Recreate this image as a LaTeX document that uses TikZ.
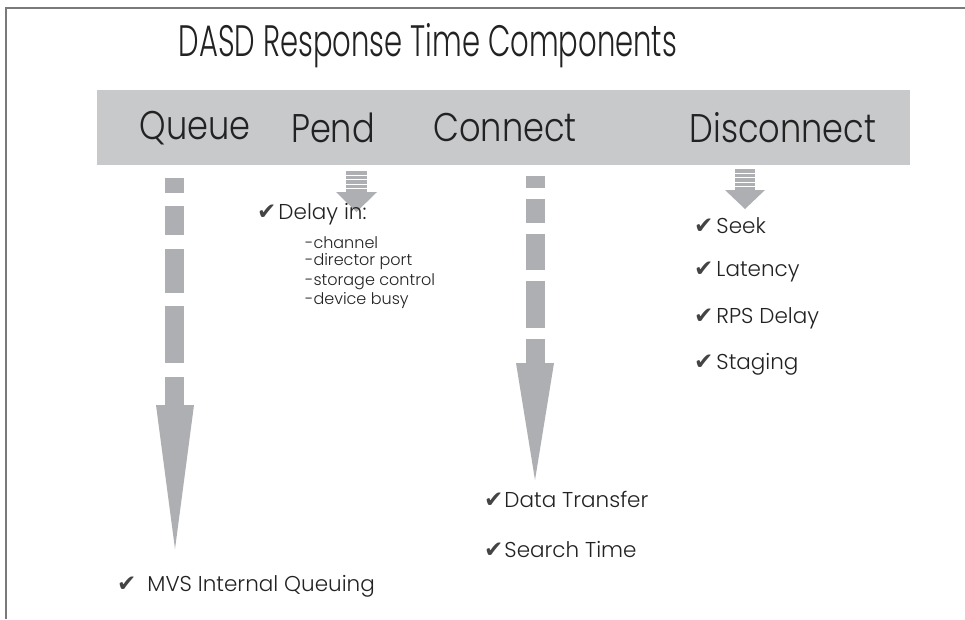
\documentclass[tikz,border=0pt]{standalone}
\usepackage{fontspec}
\setmainfont{Poppins}[UprightFont=* Light]
\newfontfamily\titlefont{Poppins}[UprightFont=* Light, FakeStretch=0.66]
\newfontfamily\headfont{Poppins}[UprightFont=* Light, FakeStretch=0.84]
\newfontfamily\symfont{DejaVu Sans}
\definecolor{bandgray}{HTML}{C8C9CB}
\definecolor{arrowgray}{HTML}{AEAFB2}
\definecolor{framegray}{HTML}{7A7A7A}
\definecolor{txt}{HTML}{222222}
\definecolor{chk}{HTML}{444444}
\tikzset{
  head/.style={font=\headfont\fontsize{40}{44}\selectfont, text=txt, inner sep=0pt},
  item/.style={font=\fontsize{21.5}{24}\selectfont, text=txt, inner sep=0pt, anchor=west},
  sub/.style={font=\fontsize{16}{18}\selectfont, text=txt, inner sep=0pt, anchor=west},
  seg/.style={fill=arrowgray, draw=none},
}
\newcommand{\ck}{{\symfont\color{chk}\fontsize{23}{24}\selectfont ✔}}
\begin{document}
\begin{tikzpicture}[x=1pt,y=-1pt]
\useasboundingbox (0,0) rectangle (965,619);
\fill[white] (0,0) rectangle (965,619);
% frame
\draw[framegray, line width=1.6pt] (965,8) -- (6,8) -- (6,619);
% title
\node[font=\titlefont\fontsize{44}{48}\selectfont, text=txt, inner sep=0pt] (title) at (428,46) {DASD Response Time Components};
% band
\fill[bandgray] (97,90) rectangle (910,165);
\node[head] (queue) at (195,128) {Queue};
\node[head] (pend) at (333,128) {Pend};
\node[head] (connect) at (505,128) {Connect};
\node[head] (disconnect) at (783,128) {Disconnect};
% Queue arrow
\fill[seg] (165,178) rectangle (184,193);
\fill[seg] (165,206) rectangle (184,235);
\fill[seg] (165,249) rectangle (184,293);
\fill[seg] (165,306) rectangle (184,363);
\fill[seg] (165,377) rectangle (184,406);
\fill[seg] (156,405) -- (194,405) -- (175,549) -- cycle;
% Connect arrow
\fill[seg] (526,176) rectangle (545,188);
\fill[seg] (526,199) rectangle (545,223);
\fill[seg] (526,234) rectangle (545,270);
\fill[seg] (526,281) rectangle (545,328);
\fill[seg] (526,339) rectangle (545,364);
\fill[seg] (516,363) -- (554,363) -- (535,480) -- cycle;
% Pend arrow
\fill[seg] (346,171) rectangle (367,192);
\fill[seg] (336,192) -- (377,192) -- (356.5,212) -- cycle;
\foreach \yy in {175.5,179.5,184,188} \draw[white, line width=0.8pt] (346,\yy) -- (367,\yy);
% Disconnect arrow
\fill[seg] (735,169) rectangle (755,190);
\fill[seg] (725,190) -- (765,190) -- (745,209) -- cycle;
\foreach \yy in {173.5,177.5,182,186} \draw[white, line width=0.8pt] (735,\yy) -- (755,\yy);
% Pend items
\node[item] (delay) at (257,214) {\ck\hspace{2pt}Delay in:};
\node[sub] (s1) at (305,243) {-channel};
\node[sub] (s2) at (305,262) {-director port};
\node[sub] (s3) at (305,282) {-storage control};
\node[sub] (s4) at (305,301) {-device busy};
% Disconnect items
\node[item] (seek) at (694,226) {\ck\hspace{3pt}Seek};
\node[item] (lat) at (694,272) {\ck\hspace{3pt}Latency};
\node[item] (rps) at (694,318) {\ck\hspace{3pt}RPS Delay};
\node[item] (stag) at (694,364) {\ck\hspace{3pt}Staging};
% Connect items
\node[item] (data) at (484,499) {\ck\hspace{1pt}Data Transfer};
\node[item] (search) at (484,549) {\ck\hspace{1pt}Search Time};
% Queue item
\node[item] (mvs) at (117,586) {\ck\hspace{11pt}MVS Internal Queuing};
\end{tikzpicture}
\end{document}
